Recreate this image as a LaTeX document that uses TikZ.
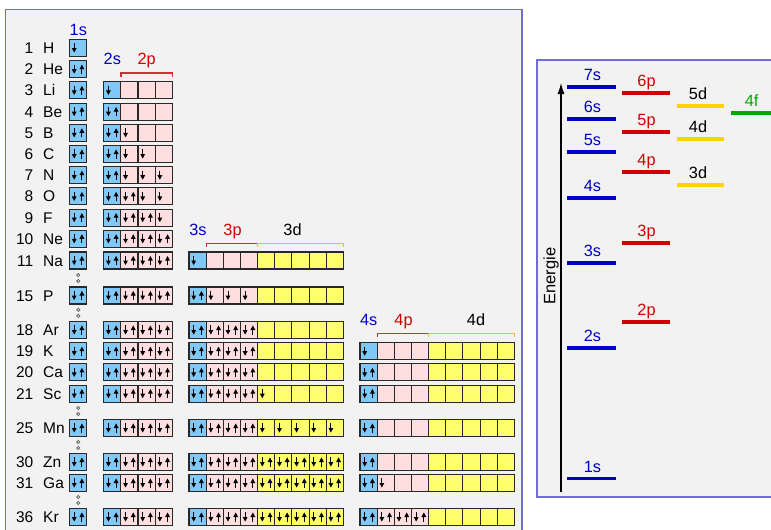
\documentclass[tikz,border=0pt]{standalone}
\usepackage{fontspec}
\setmainfont{Liberation Sans}
\usetikzlibrary{arrows.meta}
\definecolor{fills}{RGB}{128,200,248}
\definecolor{fillp}{RGB}{255,222,224}
\definecolor{filld}{RGB}{255,255,110}
\definecolor{sblue}{RGB}{0,0,204}
\definecolor{pred}{RGB}{210,0,0}
\definecolor{dgold}{RGB}{255,210,0}
\definecolor{fgreen}{RGB}{0,170,0}
\definecolor{panelbg}{RGB}{242,242,242}
\definecolor{panelln}{RGB}{110,110,210}
\definecolor{pbrk}{RGB}{205,50,50}
\definecolor{dbrk}{RGB}{242,192,20}
\definecolor{cellln}{RGB}{40,40,40}
\newcommand\egrp[3]{%
  \foreach \cc/\nn [count=\ii from 0] in {#3}{
    \pgfmathsetmacro\xx{#1+\ii*17.15}
    \draw[cellbox, fill=fill\cc] (\xx,#2-8.5) rectangle ++(17.15,17);
    \ifnum\nn>0 \draw[edn] (\xx+4.7,#2-4.6) -- (\xx+4.7,#2+4.6);\fi
    \ifnum\nn>1 \draw[eup] (\xx+12.4,#2+4.6) -- (\xx+12.4,#2-4.6);\fi
  }}
\begin{document}
\begin{tikzpicture}[x=1pt,y=-1pt,
  cellbox/.style={draw=cellln, line width=1.1pt},
  edn/.style={line width=1pt, -{Triangle[length=4.6pt,width=4.6pt]}},
  eup/.style={line width=1pt, -{Triangle[length=4.6pt,width=4.6pt]}},
  ellab/.style={inner sep=0pt, text height=11pt, text depth=0pt, font=\fontsize{15.5}{18}\selectfont},
  olab/.style={inner sep=0pt, text height=11.6pt, text depth=0pt, font=\fontsize{16.3}{19}\selectfont},
  slev/.style={draw=sblue, line width=4.3pt},
  plev/.style={draw=pred, line width=4.3pt},
  dlev/.style={draw=dgold, line width=4.3pt},
  flev/.style={draw=fgreen, line width=4.3pt},
  pbr/.style={draw=pbrk, line width=1.3pt},
  dbr/.style={draw=dbrk, line width=1.3pt},
  dotc/.style={draw=black!60, line width=0.8pt}]
\useasboundingbox (0,0) rectangle (771,530);
\fill[white] (0,0) rectangle (771,530);
% panels
\fill[panelbg] (5.5,9.5) rectangle (522,530);
\draw[panelln, line width=1.3pt] (5.5,535) -- (5.5,9.5) -- (522,9.5) -- (522,535);
\fill[panelbg] (537,60) rectangle (771,497);
\draw[panelln, line width=1.3pt] (775,60) -- (537,60) -- (537,497) -- (775,497);

% element labels
\foreach \num/\sym/\yy [count=\k] in {1/H/48, 2/He/69.2, 3/Li/90.4, 4/Be/111.6, 5/B/132.8, 6/C/154, 7/N/175.2, 8/O/196.4, 9/F/217.6, 10/Ne/238.8, 11/Na/260.5, 15/P/295.5, 18/Ar/330, 19/K/351.2, 20/Ca/372.4, 21/Sc/393.6, 25/Mn/428, 30/Zn/462, 31/Ga/483, 36/Kr/517}{
  \node[ellab, anchor=east] (num\k) at (33.5,\yy) {\num};
  \node[ellab, anchor=west] (sym\k) at (43,\yy) {\sym};
}

% orbital labels, left panel
\node[olab, sblue] (l1s) at (78.3,29.7) {1s};
\node[olab, sblue] (l2s) at (112.3,59) {2s};
\node[olab, pred] (l2p) at (146.6,59) {2p};
\node[olab, sblue] (l3s) at (198,230) {3s};
\node[olab, pred] (l3p) at (232.5,230) {3p};
\node[olab] (l3d) at (292.5,230) {3d};
\node[olab, sblue] (l4s) at (368.7,319.5) {4s};
\node[olab, pred] (l4p) at (403.5,319.5) {4p};
\node[olab] (l4d) at (476,319.5) {4d};

% brackets
\draw[pbr] (120.85,77) -- (120.85,73) -- (172.3,73) -- (172.3,77);
\draw[pbr] (206.15,247) -- (206.15,243.3) -- (257.6,243.3);
\draw[dbr] (257.6,247) -- (257.6,243.3) -- (343.35,243.3) -- (343.35,247);
\draw[pbr] (377.15,337) -- (377.15,333.3) -- (428.6,333.3);
\draw[dbr] (428.6,337) -- (428.6,333.3) -- (514.35,333.3) -- (514.35,337);

% 1s column
\egrp{69.5}{48}{s/1}
\egrp{69.5}{69.2}{s/2}
\foreach \yy in {90.4,111.6,132.8,154,175.2,196.4,217.6,238.8,260.5,295.5,330,351.2,372.4,393.6,428,462,483,517}{
  \egrp{69.5}{\yy}{s/2}
}
% n=2 group
\egrp{103.7}{90.4}{s/1,p/0,p/0,p/0}
\egrp{103.7}{111.6}{s/2,p/0,p/0,p/0}
\egrp{103.7}{132.8}{s/2,p/1,p/0,p/0}
\egrp{103.7}{154}{s/2,p/1,p/1,p/0}
\egrp{103.7}{175.2}{s/2,p/1,p/1,p/1}
\egrp{103.7}{196.4}{s/2,p/2,p/1,p/1}
\egrp{103.7}{217.6}{s/2,p/2,p/2,p/1}
\foreach \yy in {238.8,260.5,295.5,330,351.2,372.4,393.6,428,462,483,517}{
  \egrp{103.7}{\yy}{s/2,p/2,p/2,p/2}
}
% n=3 group
\egrp{189}{260.5}{s/1,p/0,p/0,p/0,d/0,d/0,d/0,d/0,d/0}
\egrp{189}{295.5}{s/2,p/1,p/1,p/1,d/0,d/0,d/0,d/0,d/0}
\egrp{189}{330}{s/2,p/2,p/2,p/2,d/0,d/0,d/0,d/0,d/0}
\egrp{189}{351.2}{s/2,p/2,p/2,p/2,d/0,d/0,d/0,d/0,d/0}
\egrp{189}{372.4}{s/2,p/2,p/2,p/2,d/0,d/0,d/0,d/0,d/0}
\egrp{189}{393.6}{s/2,p/2,p/2,p/2,d/1,d/0,d/0,d/0,d/0}
\egrp{189}{428}{s/2,p/2,p/2,p/2,d/1,d/1,d/1,d/1,d/1}
\egrp{189}{462}{s/2,p/2,p/2,p/2,d/2,d/2,d/2,d/2,d/2}
\egrp{189}{483}{s/2,p/2,p/2,p/2,d/2,d/2,d/2,d/2,d/2}
\egrp{189}{517}{s/2,p/2,p/2,p/2,d/2,d/2,d/2,d/2,d/2}
% n=4 group
\egrp{360}{351.2}{s/1,p/0,p/0,p/0,d/0,d/0,d/0,d/0,d/0}
\egrp{360}{372.4}{s/2,p/0,p/0,p/0,d/0,d/0,d/0,d/0,d/0}
\egrp{360}{393.6}{s/2,p/0,p/0,p/0,d/0,d/0,d/0,d/0,d/0}
\egrp{360}{428}{s/2,p/0,p/0,p/0,d/0,d/0,d/0,d/0,d/0}
\egrp{360}{462}{s/2,p/0,p/0,p/0,d/0,d/0,d/0,d/0,d/0}
\egrp{360}{483}{s/2,p/1,p/0,p/0,d/0,d/0,d/0,d/0,d/0}
\egrp{360}{517}{s/2,p/2,p/2,p/2,d/0,d/0,d/0,d/0,d/0}

% ellipsis dots
\foreach \yy in {278,312.8,411,445,500}{
  \draw[dotc] (78.3,\yy-3) circle (1.6);
  \draw[dotc] (78.3,\yy+3) circle (1.6);
}

% energy diagram
\coordinate (ebot) at (561,492);
\coordinate (etop) at (561,83);
\draw[line width=1.2pt, -{Latex[length=11pt,width=7pt]}] (ebot) -- (etop);
\node[rotate=90, inner sep=0pt, font=\fontsize{16.5}{19}\selectfont] (energie) at (551,276) {Energie};

\foreach \nm/\yy in {7s/86.7, 6s/119.3, 5s/151.7, 4s/197.7, 3s/262.7, 2s/347.7}{
  \draw[slev] (567.3,\yy) -- (616,\yy);
  \node[olab, sblue] (e\nm) at (592.5,\yy-12.3) {\nm};
}
\draw[slev, line width=3pt] (567.3,478.3) -- (616,478.3);
\node[olab, sblue] (e1s) at (592.5,466.3) {1s};
\foreach \nm/\yy in {6p/93.3, 5p/132.3, 4p/171.7, 3p/243.3, 2p/321.7}{
  \draw[plev] (622,\yy) -- (670,\yy);
  \node[olab, pred] (e\nm) at (646.5,\yy-12.3) {\nm};
}
\foreach \nm/\yy in {5d/106, 4d/139, 3d/184.7}{
  \draw[dlev] (676.7,\yy) -- (724.3,\yy);
  \node[olab] (e\nm) at (698,\yy-12.3) {\nm};
}
\draw[flev] (731,112.7) -- (771,112.7);
\node[olab, fgreen] (e4f) at (751.7,100.4) {4f};
\end{tikzpicture}
\end{document}
